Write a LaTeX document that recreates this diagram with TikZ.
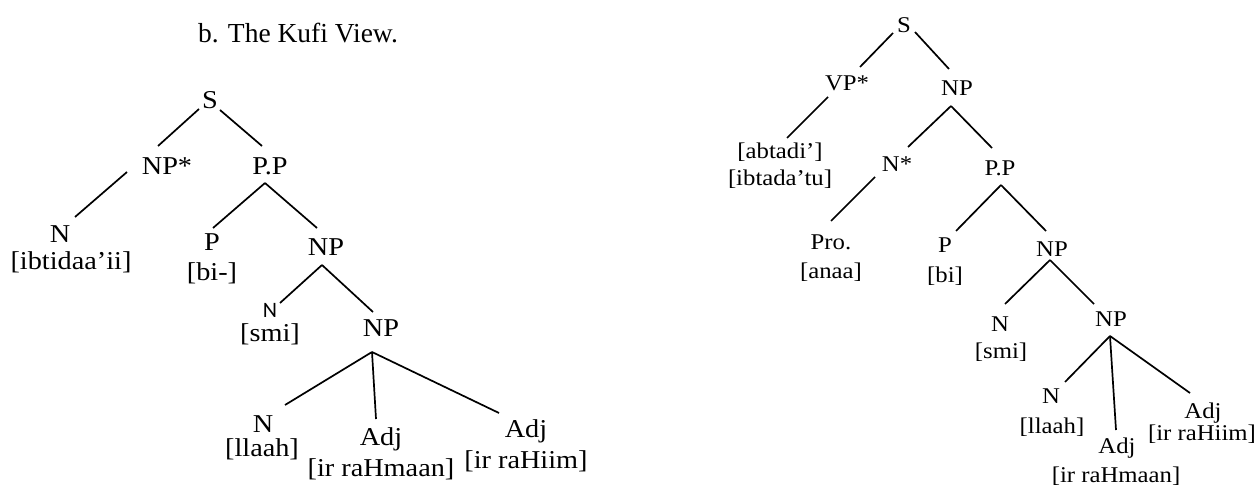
\documentclass[tikz,border=0pt]{standalone}
\usepackage{fontspec}
\newfontfamily\treefont[FakeStretch=1.1]{Liberation Serif}
\newfontfamily\glosssans{Carlito}
\newfontfamily\headfont{Liberation Serif}
\begin{document}
\begin{tikzpicture}[x=1pt,y=-1pt,
  lcat/.style={anchor=base, inner sep=0pt, font=\treefont\fontsize{25.7}{27}\selectfont},
  rcat/.style={anchor=base, inner sep=0pt, font=\treefont\fontsize{22.5}{24}\selectfont},
  sanscat/.style={anchor=base, inner sep=0pt, font=\glosssans\fontsize{22}{24}\selectfont},
  branch/.style={line width=1.7pt}]
\useasboundingbox (0,0) rectangle (1259,486);

% heading
\node[anchor=base west, inner sep=0pt, font=\headfont\fontsize{27.5}{30}\selectfont] (title) at (198,43) {b. The Kufi View.};

% ---------- left tree ----------
\node[lcat] (lS)    at (210,109) {S};
\node[lcat] (lNPs)  at (167,175) {NP*};
\node[lcat] (lPP)   at (270,175) {P.P};
\node[lcat] (lN1)   at (60,243)  {N};
\node[lcat] (lN1g)  at (71,270)  {[ibtidaa’ii]};
\node[lcat] (lP)    at (212,251) {P};
\node[lcat] (lPg)   at (212,281) {[bi-]};
\node[lcat] (lNP1)  at (326,256) {NP};
\node[sanscat] (lN2) at (270,318) {N};
\node[lcat] (lN2g)  at (270,342) {[smi]};
\node[lcat] (lNP2)  at (381,337) {NP};
\node[lcat] (lN3)   at (263,432) {N};
\node[lcat] (lN3g)  at (262,456) {[llaah]};
\node[lcat] (lA1)   at (381,445) {Adj};
\node[lcat] (lA1g)  at (381,476) {[ir raHmaan]};
\node[lcat] (lA2)   at (526,437) {Adj};
\node[lcat] (lA2g)  at (526,468) {[ir raHiim]};

\draw[branch] ([shift={(-11,0)}]lS.base)   -- ([shift={(-9,-29)}]lNPs.base);
\draw[branch] ([shift={(10,1)}]lS.base)    -- ([shift={(-8,-29)}]lPP.base);
\draw[branch] ([shift={(-40,-3)}]lNPs.base) -- ([shift={(15,-26)}]lN1.base);
\draw[branch] ([shift={(-5,8)}]lPP.base)   -- ([shift={(1,-23)}]lP.base);
\draw[branch] ([shift={(-5,8)}]lPP.base)   -- ([shift={(-9,-28)}]lNP1.base);
\draw[branch] ([shift={(-4,9)}]lNP1.base)  -- ([shift={(10,-15)}]lN2.base);
\draw[branch] ([shift={(-4,9)}]lNP1.base)  -- ([shift={(-8,-25)}]lNP2.base);
\draw[branch] ([shift={(-9,15)}]lNP2.base) -- ([shift={(22,-27)}]lN3.base);
\draw[branch] ([shift={(-9,15)}]lNP2.base) -- ([shift={(-5,-26)}]lA1.base);
\draw[branch] ([shift={(-9,15)}]lNP2.base) -- ([shift={(-27,-24)}]lA2.base);

% ---------- right tree ----------
\node[rcat] (rS)    at (904,33)   {S};
\node[rcat] (rVP)   at (847,91)   {VP*};
\node[rcat] (rNP)   at (957,96)   {NP};
\node[rcat] (rVPg1) at (780,159)  {[abtadi’]};
\node[rcat] (rVPg2) at (780,186)  {[ibtada’tu]};
\node[rcat] (rNs)   at (897,172)  {N*};
\node[rcat] (rPro)  at (831,250)  {Pro.};
\node[rcat] (rProg) at (831,279)  {[anaa]};
\node[rcat] (rPP)   at (1000,176) {P.P};
\node[rcat] (rP)    at (945,253)  {P};
\node[rcat] (rPg)   at (945,283)  {[bi]};
\node[rcat] (rNP1)  at (1052,257) {NP};
\node[rcat] (rN2)   at (1000,332) {N};
\node[rcat] (rN2g)  at (1001,359) {[smi]};
\node[rcat] (rNP2)  at (1111,327) {NP};
\node[rcat] (rN3)   at (1051,403) {N};
\node[rcat] (rN3g)  at (1052,433) {[llaah]};
\node[rcat] (rA1)   at (1117,453) {Adj};
\node[rcat] (rA1g)  at (1116,482) {[ir raHmaan]};
\node[rcat] (rA2)   at (1203,418) {Adj};
\node[rcat] (rA2g)  at (1202,440) {[ir raHiim]};

\draw[branch] ([shift={(-11,0)}]rS.base)   -- ([shift={(13,-24)}]rVP.base);
\draw[branch] ([shift={(11,-1)}]rS.base)   -- ([shift={(-8,-27)}]rNP.base);
\draw[branch] ([shift={(-19,6)}]rVP.base)  -- ([shift={(7,-21)}]rVPg1.base);
\draw[branch] ([shift={(-6,10)}]rNP.base)  -- ([shift={(11,-25)}]rNs.base);
\draw[branch] ([shift={(-6,10)}]rNP.base)  -- ([shift={(-8,-28)}]rPP.base);
\draw[branch] ([shift={(-22,5)}]rNs.base)  -- ([shift={(0,-29)}]rPro.base);
\draw[branch] ([shift={(1,9)}]rPP.base)    -- ([shift={(11,-22)}]rP.base);
\draw[branch] ([shift={(1,9)}]rPP.base)    -- ([shift={(-6,-26)}]rNP1.base);
\draw[branch] ([shift={(-2,3)}]rNP1.base)  -- ([shift={(5,-28)}]rN2.base);
\draw[branch] ([shift={(-2,3)}]rNP1.base)  -- ([shift={(-17,-23)}]rNP2.base);
\draw[branch] ([shift={(-1,9)}]rNP2.base)  -- ([shift={(14,-21)}]rN3.base);
\draw[branch] ([shift={(-1,9)}]rNP2.base)  -- ([shift={(-1,-23)}]rA1.base);
\draw[branch] ([shift={(-1,9)}]rNP2.base)  -- ([shift={(-13,-25)}]rA2.base);
\end{tikzpicture}
\end{document}
